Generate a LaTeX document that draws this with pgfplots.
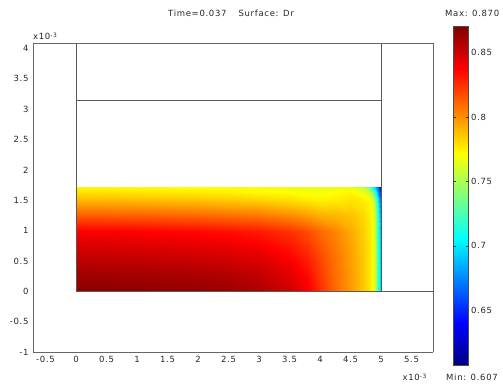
\documentclass[border=0pt]{standalone}
\usepackage{fontspec}
\setmainfont{DejaVu Sans}[LetterSpace=8]
\usepackage{pgfplots}
\pgfplotsset{compat=1.18}
\usepackage{pgfplotstable}

\pgfplotstableread{
x y v
0 0 0.867
1 0 0.867
2 0 0.865
2.5 0 0.863
3 0 0.859
3.5 0 0.849
3.8 0 0.838
4 0 0.826
4.25 0 0.810
4.5 0 0.797
4.7 0 0.786
4.8 0 0.778
4.85 0 0.772
4.9 0 0.758
4.95 0 0.720
5 0 0.685
0 0.25 0.862
1 0.25 0.861
2 0.25 0.859
2.5 0.25 0.857
3 0.25 0.853
3.5 0.25 0.845
3.8 0.25 0.835
4 0.25 0.823
4.25 0.25 0.809
4.5 0.25 0.797
4.7 0.25 0.786
4.8 0.25 0.778
4.85 0.25 0.772
4.9 0.25 0.758
4.95 0.25 0.720
5 0.25 0.685
0 0.5 0.855
1 0.5 0.854
2 0.5 0.852
2.5 0.5 0.850
3 0.5 0.847
3.5 0.5 0.839
3.8 0.5 0.830
4 0.5 0.820
4.25 0.5 0.808
4.5 0.5 0.796
4.7 0.5 0.786
4.8 0.5 0.778
4.85 0.5 0.772
4.9 0.5 0.758
4.95 0.5 0.719
5 0.5 0.684
0 0.75 0.847
1 0.75 0.846
2 0.75 0.844
2.5 0.75 0.842
3 0.75 0.839
3.5 0.75 0.832
3.8 0.75 0.824
4 0.75 0.815
4.25 0.75 0.806
4.5 0.75 0.795
4.7 0.75 0.785
4.8 0.75 0.778
4.85 0.75 0.772
4.9 0.75 0.757
4.95 0.75 0.718
5 0.75 0.682
0 1.0 0.838
1 1.0 0.837
2 1.0 0.835
2.5 1.0 0.833
3 1.0 0.830
3.5 1.0 0.824
3.8 1.0 0.817
4 1.0 0.810
4.25 1.0 0.803
4.5 1.0 0.793
4.7 1.0 0.784
4.8 1.0 0.777
4.85 1.0 0.771
4.9 1.0 0.756
4.95 1.0 0.716
5 1.0 0.678
0 1.25 0.813
1 1.25 0.812
2 1.25 0.810
2.5 1.25 0.808
3 1.25 0.806
3.5 1.25 0.801
3.8 1.25 0.796
4 1.25 0.792
4.25 1.25 0.790
4.5 1.25 0.787
4.7 1.25 0.782
4.8 1.25 0.776
4.85 1.25 0.770
4.9 1.25 0.754
4.95 1.25 0.712
5 1.25 0.672
0 1.5 0.790
1 1.5 0.789
2 1.5 0.787
2.5 1.5 0.785
3 1.5 0.783
3.5 1.5 0.780
3.8 1.5 0.777
4 1.5 0.775
4.25 1.5 0.776
4.5 1.5 0.778
4.7 1.5 0.776
4.8 1.5 0.773
4.85 1.5 0.765
4.9 1.5 0.745
4.95 1.5 0.700
5 1.5 0.660
0 1.62 0.780
1 1.62 0.779
2 1.62 0.777
2.5 1.62 0.776
3 1.62 0.774
3.5 1.62 0.772
3.8 1.62 0.770
4 1.62 0.769
4.25 1.62 0.772
4.5 1.62 0.774
4.7 1.62 0.768
4.8 1.62 0.760
4.85 1.62 0.745
4.9 1.62 0.720
4.95 1.62 0.680
5 1.62 0.645
0 1.72 0.773
1 1.72 0.772
2 1.72 0.771
2.5 1.72 0.770
3 1.72 0.769
3.5 1.72 0.768
3.8 1.72 0.767
4 1.72 0.766
4.25 1.72 0.768
4.5 1.72 0.766
4.7 1.72 0.757
4.8 1.72 0.735
4.85 1.72 0.710
4.9 1.72 0.690
4.95 1.72 0.660
5 1.72 0.625
}\dr

\newcommand{\lblfont}{\fontsize{8.5}{10}\selectfont}

\begin{document}
\begin{tikzpicture}
\begin{axis}[
  view={0}{90},
  scale only axis, width=400pt, height=309pt,
  xmin=-0.705, xmax=5.85, ymin=-1, ymax=4.09, zmin=0, zmax=1,
  xtick={-0.5,0,0.5,1,1.5,2,2.5,3,3.5,4,4.5,5,5.5},
  ytick={-1,-0.5,0,0.5,1,1.5,2,2.5,3,3.5,4},
  ztick=\empty,
  major tick length=0pt,
  tick label style={font=\lblfont, text=black!85},
  /pgf/number format/assume math mode=true,
  xticklabel style={yshift=-1pt},
  yticklabel style={xshift=-1pt},
  axis line style={draw=black!60, line width=0.7pt},
  colormap/jet,
  point meta min=0.607, point meta max=0.870,
  colorbar,
  colorbar style={
    at={(parent axis.north east)}, anchor=north west,
    xshift=12pt, yshift=16.3pt,
    scale only axis, width=15pt, height=339pt,
    ytick={0.65,0.7,0.75,0.8,0.85},
    major tick length=2.5pt,
    ytick pos=both, yticklabel pos=right,
    yticklabel style={font=\lblfont, text=black!85, xshift=-1pt},
    /pgf/number format/assume math mode=true,
    axis line style={draw=black!70, line width=0.6pt},
    tick style={draw=black!80},
  },
]
\addplot3[surf, shader=interp, point meta=explicit, mesh/rows=9, mesh/cols=16]
  table[x=x, y=y, z expr=0, meta=v] {\dr};
\addplot3[draw=black!65, line width=0.7pt, no marks] coordinates {(0,0,0) (0,4.09,0)};
\addplot3[draw=black!65, line width=0.7pt, no marks] coordinates {(5,0,0) (5,4.09,0)};
\addplot3[draw=black!65, line width=0.7pt, no marks] coordinates {(0,3.15,0) (5,3.15,0)};
\addplot3[draw=black!65, line width=0.7pt, no marks] coordinates {(0,0,0) (5.85,0,0)};
\coordinate (sw) at (rel axis cs:0,0,0);
\coordinate (ne) at (rel axis cs:1,1,0);
\end{axis}
\node[anchor=base west, inner sep=0pt, font=\lblfont, text=black!85] at ([yshift=3pt]sw |- ne) {x10\textsuperscript{-3}};
\node[anchor=base east, inner sep=0pt, font=\lblfont, text=black!85] at ([shift={(-6pt,-29pt)}]ne |- sw) {x10\textsuperscript{-3}};
\node[anchor=base, inner sep=0pt, font=\lblfont, text=black!85] at ([shift={(198pt,26pt)}]sw |- ne) {Time=0.037\hspace{12pt}Surface: Dr};
\node[anchor=base west, inner sep=0pt, font=\lblfont, text=black!85] at ([shift={(12pt,26pt)}]ne) {Max: 0.870};
\node[anchor=base west, inner sep=0pt, font=\lblfont, text=black!85] at ([shift={(13pt,-29pt)}]ne |- sw) {Min: 0.607};
\pgfresetboundingbox
\path[use as bounding box] ([shift={(-33pt,-36pt)}]sw) rectangle ([shift={(70pt,43pt)}]ne);
\end{tikzpicture}
\end{document}
